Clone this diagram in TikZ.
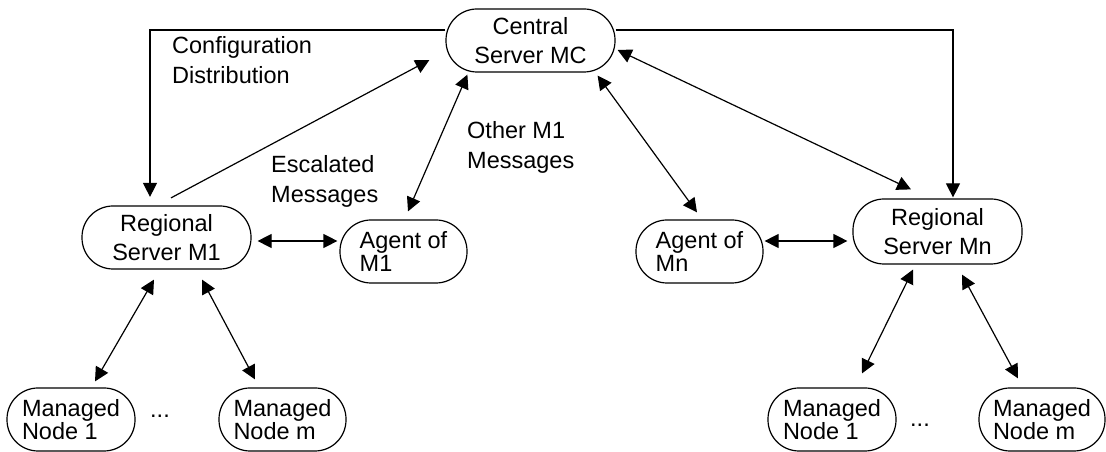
\documentclass[tikz,border=0pt]{standalone}
\usepackage{fontspec}
\setmainfont{Liberation Sans}
\usetikzlibrary{arrows.meta}
\tikzset{
  box/.style={draw, line width=1.2pt, rounded corners=31pt, align=center, inner sep=0pt,
              minimum width=169pt, minimum height=63pt, font=\fontsize{23.5}{28.5}\selectfont},
  lbox/.style={box, align=left, minimum width=127pt, font=\fontsize{23.5}{23}\selectfont},
  flow/.style={->, line width=1.2pt},
  both/.style={<->, line width=1.2pt},
  lbl/.style={anchor=north west, inner sep=0pt, align=left, font=\fontsize{23.5}{30.5}\selectfont},
  dots/.style={inner sep=0pt, font=\fontsize{23.5}{28}\selectfont}
}

\begin{document}
\begin{tikzpicture}[x=1pt, y=1pt, >={Triangle[length=14pt,width=14pt]}]
  \useasboundingbox (0,0) rectangle (1106,452);
  % servers and agents
  \node[box] (mc) at (530.5,411.5) {Central\\Server MC};
  \node[box] (rm1) at (166.5,214.5) {Regional\\Server M1};
  \node[box, minimum height=65pt] (rmn) at (937.5,220.5) {Regional\\Server Mn};
  \node[lbox] (am1) at (403.5,200.5) {Agent of\\M1};
  \node[lbox] (amn) at (699.5,200.5) {Agent of\\Mn};
  % managed nodes
  \node[lbox, minimum width=128pt] (mn1a) at (71,32.5) {Managed\\Node 1};
  \node[lbox] (nma) at (282.5,32.5) {Managed\\Node m};
  \node[lbox, minimum width=128pt] (mn1b) at (832,32.5) {Managed\\Node 1};
  \node[lbox, minimum width=126pt] (nmb) at (1042,32.5) {Managed\\Node m};
  \node[dots] (dl) at (160,36) {...};
  \node[dots] (dr) at (920,27) {...};
  % labels
  \node[lbl] (cfg) at (172,416) {Configuration\\Distribution};
  \node[lbl] (esc) at (271,297) {Escalated\\Messages};
  \node[lbl] (oth) at (467,331) {Other M1\\Messages};
  % configuration distribution
  \draw[flow] ([yshift=10.5pt]mc.west) -| ([xshift=-16.5pt,yshift=8.5pt]rm1.north);
  \draw[flow] ([yshift=10.5pt]mc.east) -| ([xshift=15.5pt,yshift=1pt]rmn.north);
  % messages to the central server
  \draw[flow] ([xshift=4.5pt,yshift=7.5pt]rm1.north) -- ([xshift=-16pt,yshift=-19.5pt]mc.west);
  \draw[both] ([xshift=22pt,yshift=-2pt]mc.south west) -- ([xshift=4.5pt,yshift=8pt]am1.north);
  \draw[both] ([xshift=-18pt,yshift=-3pt]mc.south east) -- ([xshift=-2.5pt,yshift=7pt]amn.north);
  \draw[both] ([xshift=2pt,yshift=-9.5pt]mc.east) -- ([xshift=-26.5pt,yshift=9pt]rmn.north);
  % regional links
  \draw[both] ([xshift=6pt,yshift=-3.5pt]rm1.east) -- ([xshift=-2pt,yshift=10.5pt]am1.west);
  \draw[both] ([xshift=1pt,yshift=10.5pt]amn.east) -- ([xshift=-5pt,yshift=-9.5pt]rmn.west);
  \draw[both] ([xshift=-12.5pt,yshift=-10pt]rm1.south) -- ([xshift=24pt,yshift=6pt]mn1a.north);
  \draw[both] ([xshift=35.5pt,yshift=-10pt]rm1.south) -- ([xshift=-27.5pt,yshift=8pt]nma.north);
  \draw[both] ([xshift=-24.5pt,yshift=-5pt]rmn.south) -- ([xshift=30pt,yshift=14pt]mn1b.north);
  \draw[both] ([xshift=24.5pt,yshift=-10pt]rmn.south) -- ([xshift=-24pt,yshift=9pt]nmb.north);
\end{tikzpicture}
\end{document}
